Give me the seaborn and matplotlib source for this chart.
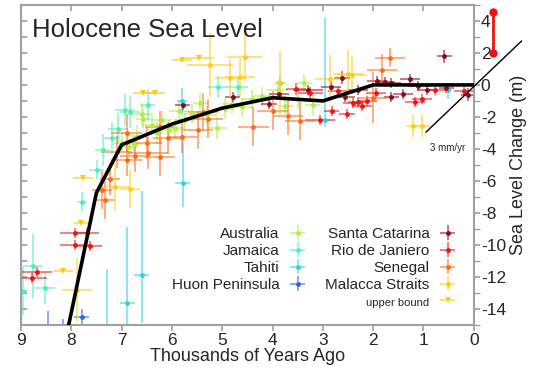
import pandas as pd
import matplotlib.pyplot as plt
import matplotlib.colors as mcolors
from matplotlib.lines import Line2D
import seaborn as sns

# ---- data (kyr ago, metres) ----
aus_x = [7.0, 6.85, 6.7, 6.57, 6.4, 6.3, 6.2, 6.05, 5.94, 5.74, 5.6, 5.44, 5.3, 5.1, 4.95, 4.8, 4.6, 4.4, 4.2, 3.9, 3.75, 3.5, 3.37, 3.2, 6.75, 6.6, 5.85]
aus_y = [-3.6, -3.9, -3.2, -2.1, -2.5, -3.0, -2.2, -2.8, -2.7, -2.2, -1.8, -1.1, -1.9, -2.7, -1.5, -1.2, -1.4, -0.9, -0.7, -0.3, -1.3, -0.9, 0.1, -1.25, -3.7, -1.8, -1.6]
aus_xe = [0.15, 0.15, 0.2, 0.15, 0.2, 0.15, 0.2, 0.2, 0.2, 0.2, 0.2, 0.15, 0.2, 0.2, 0.2, 0.2, 0.2, 0.2, 0.2, 0.2, 0.15, 0.2, 0.15, 0.15, 0.15, 0.2, 0.2]
aus_ye = [0.6, 0.6, 0.7, 0.6, 0.6, 0.7, 0.6, 0.6, 0.6, 0.6, 0.6, 0.6, 0.6, 0.7, 0.6, 0.6, 0.6, 0.6, 0.6, 0.6, 0.6, 0.6, 0.6, 0.6, 0.5, 0.7, 0.6]

jam_x = [8.96, 8.76, 8.52, 7.79, 7.49, 7.37, 7.19, 7.07, 6.93, 6.83, 6.48, 5.08, 4.69, 3.85]
jam_y = [-12.9, -11.3, -12.7, -7.3, -5.3, -4.06, -3.3, -2.75, -1.56, -1.69, -1.25, -0.12, -0.12, 0.12]
jam_xe = [0.1, 0.2, 0.2, 0.1, 0.15, 0.15, 0.15, 0.2, 0.2, 0.2, 0.15, 0.2, 0.2, 0.1]
jam_ye = [1.5, 2.0, 1.0, 0.6, 0.6, 1.0, 1.0, 1.0, 1.0, 1.0, 1.0, 0.7, 0.7, 0.5]

tah_x = [5.78, 5.8, 6.6, 6.89, 7.29, 2.96, 0.51]
tah_y = [-6.1, -1.0, -11.9, -13.6, -17.5, -2.2, -0.31]
tah_xe = [0.15, 0.1, 0.15, 0.15, 0.05, 0.1, 0.05]
tah_ylo = [1.5, 0.8, 3.0, 2.0, 6.0, 0.4, 0.6]
tah_yhi = [2.7, 0.8, 5.3, 4.7, 6.0, 6.4, 0.3]

huon_x = [7.79, 8.46, 8.17]
huon_y = [-14.5, -16.5, -16.5]
huon_xe = [0.15, 0.03, 0.03]
huon_ye = [0.5, 2.4, 1.9]

sc_x = [5.78, 4.79, 4.07, 3.87, 3.3, 2.83, 2.62, 2.56, 2.3, 1.92, 1.76, 1.64, 1.64, 1.4, 1.27, 1.1, 0.93, 0.59, 0.55, 0.11]
sc_y = [-1.25, -0.75, -1.2, -0.56, -0.3, -0.1, 0.44, -0.75, -0.3, 0.25, 0.19, 0.12, -0.75, -0.56, 0.37, -0.05, -0.3, 1.8, -0.2, -0.62]
sc_xe = [0.15, 0.15, 0.15, 0.2, 0.3, 0.2, 0.15, 0.2, 0.2, 0.2, 0.2, 0.2, 0.15, 0.2, 0.2, 0.2, 0.2, 0.15, 0.15, 0.15]
sc_ye = [0.3, 0.3, 0.3, 0.3, 0.3, 0.3, 0.4, 0.3, 0.3, 0.3, 0.3, 0.3, 0.3, 0.3, 0.3, 0.3, 0.3, 0.4, 0.3, 0.4]

rio_x = [7.93, 7.69, 7.93, 7.63, 8.68, 8.78, 3.53, 3.25, 3.06, 2.82, 2.7, 2.52, 2.4, 2.3, 2.22, 2.12, 1.95, 1.17, 1.03, 0.77, 0.2]
rio_y = [-9.25, -9.25, -10.0, -10.06, -11.7, -12.06, -0.25, -0.5, -2.19, -1.62, -0.4, -1.8, -1.12, -1.06, -1.3, -1.0, -0.5, -1.06, -0.88, -0.31, -0.4]
rio_xe = [0.3, 0.25, 0.3, 0.25, 0.3, 0.3, 0.2, 0.25, 0.3, 0.15, 0.2, 0.15, 0.2, 0.2, 0.2, 0.2, 0.2, 0.2, 0.2, 0.2, 0.2]
rio_ye = [0.3, 0.3, 0.3, 0.3, 0.3, 0.3, 0.4, 0.4, 0.3, 0.3, 0.3, 0.3, 0.3, 0.3, 0.3, 0.3, 0.3, 0.3, 0.3, 0.3, 0.3]

sen_x = [7.39, 7.33, 7.23, 7.1, 6.9, 6.9, 6.73, 6.5, 6.48, 6.24, 6.24, 6.08, 5.8, 5.48, 5.38, 5.28, 4.38, 4.0, 3.69, 3.45, 2.0, 1.82, 1.66]
sen_y = [-6.56, -7.2, -5.9, -4.2, -4.7, -3.0, -4.44, -3.62, -4.25, -4.5, -2.6, -3.3, -3.25, -2.8, -1.69, -2.1, -2.6, -1.6, -1.94, -2.25, -0.8, 0.94, 1.7]
sen_xe = [0.2, 0.2, 0.2, 0.3, 0.3, 0.3, 0.3, 0.3, 0.4, 0.3, 0.3, 0.3, 0.3, 0.3, 0.3, 0.3, 0.3, 0.3, 0.3, 0.3, 0.3, 0.3, 0.3]
sen_ye = [1.2, 1.2, 1.0, 1.0, 1.0, 1.2, 1.0, 1.0, 1.0, 1.2, 1.0, 1.0, 1.0, 1.2, 1.2, 1.2, 1.2, 1.2, 1.2, 1.2, 1.6, 1.0, 0.6]

mal_x = [7.88, 7.13, 6.83, 5.24, 4.84, 4.65, 4.55, 3.85, 2.86, 2.5, 2.42, 1.2, 1.03]
mal_y = [-12.8, -6.4, -6.5, 1.25, 0.44, 0.5, 1.75, 0.1, 0.37, 0.69, 0.62, -2.56, -2.56]
mal_xe = [0.3, 0.3, 0.2, 0.45, 0.3, 0.3, 0.35, 0.1, 0.3, 0.3, 0.3, 0.15, 0.15]
mal_ye = [2.0, 1.5, 1.2, 2.0, 1.2, 1.2, 1.5, 2.0, 1.5, 1.5, 1.2, 0.7, 0.7]

ub_x = [8.17, 7.8, 7.77, 6.57, 6.34, 5.8, 5.46]
ub_y = [-11.6, -8.6, -5.8, -0.5, -0.5, 1.56, 1.7]
ub_xe = [0.2, 0.15, 0.2, 0.2, 0.2, 0.2, 0.3]

curve_x = [8.1, 7.5, 7.0, 6.0, 5.0, 4.0, 3.0, 2.0, 0.0]
curve_y = [-15.75, -6.75, -3.75, -2.45, -1.45, -0.8, -1.0, 0.0, 0.0]

rate_x = [0.95, -0.95]
rate_y = [-2.95, 2.75]

series = [
    ("Australia", "#aef046", aus_x, aus_y, aus_xe, aus_ye),
    ("Jamaica", "#4ff0b2", jam_x, jam_y, jam_xe, jam_ye),
    ("Tahiti", "#2fcff0", tah_x, tah_y, tah_xe, [tah_ylo, tah_yhi]),
    ("Huon Peninsula", "#2a66ee", huon_x, huon_y, huon_xe, huon_ye),
    ("Santa Catarina", "#8e0b1e", sc_x, sc_y, sc_xe, sc_ye),
    ("Rio de Janiero", "#ee1414", rio_x, rio_y, rio_xe, rio_ye),
    ("Senegal", "#ff6a1a", sen_x, sen_y, sen_xe, sen_ye),
    ("Malacca Straits", "#ffcc16", mal_x, mal_y, mal_xe, mal_ye),
]

sns.set_theme(style="white")
plt.rcParams['font.family'] = ['Liberation Sans', 'DejaVu Sans']
plt.rcParams['axes.unicode_minus'] = False

fig = plt.figure(figsize=(5.36, 3.8), dpi=100)
ax = fig.add_axes([0.039, 0.145, 0.845, 0.842])

handles = {}
for name, col, x, y, xe, ye in series:
    h = ax.errorbar(x, y, xerr=xe, yerr=ye, fmt='o', ms=3.5, color=col,
                    ecolor=mcolors.to_rgba(col, 0.55), elinewidth=1.4,
                    capsize=0, mew=0, label=name)
    handles[name] = h

h_ub = ax.errorbar(ub_x, ub_y, xerr=ub_xe, fmt='v', ms=5, color="#ffc814",
                   ecolor=mcolors.to_rgba("#ffc814", 0.6), elinewidth=1.4,
                   capsize=0, mew=0, label="upper bound")

df_curve = pd.DataFrame({"kyr": curve_x, "level": curve_y})
sns.lineplot(data=df_curve, x="kyr", y="level", sort=False, estimator=None,
             color="black", lw=2.6, ax=ax, zorder=5)

# 3 mm/yr reference line and red range bar outside the axes
ax.plot(rate_x, rate_y, color="black", lw=1, clip_on=False, zorder=6)
ax.text(0.53, -3.95, "3 mm/yr", fontsize=7, ha="center", va="center")
ax.plot([-0.38, -0.38], [2.0, 4.55], color="#ee1111", lw=2, marker='o', ms=5,
        clip_on=False, zorder=6)

ax.set_xlim(9, 0)
ax.set_ylim(-15, 5)
ax.set_xticks(range(0, 10))
ax.set_yticks(range(-14, 5, 2))
ax.set_yticks(range(-15, 6, 2), minor=True)
ax.yaxis.tick_right()
ax.yaxis.set_label_position("right")
gray = "#a0a0a0"
for s in ax.spines.values():
    s.set_color(gray)
    s.set_linewidth(1.5)
ax.tick_params(axis="x", bottom=True, direction="out", length=4, color=gray,
               labelsize=12.5, pad=2)
ax.tick_params(axis="y", which="both", right=True, left=False, direction="out",
               length=4, color=gray, labelsize=12.5, pad=1)

secx = ax.secondary_xaxis("top")
secx.set_xticks(range(0, 10))
secx.tick_params(direction="in", length=4, color=gray, labeltop=False)
secx.spines["top"].set_color(gray)
secy = ax.secondary_yaxis("left")
secy.set_yticks(range(-15, 6))
secy.tick_params(direction="in", length=4, color=gray, labelleft=False)
secy.spines["left"].set_color(gray)

ax.set_xlabel("Thousands of Years Ago", fontsize=13, labelpad=0)
ax.set_ylabel("Sea Level Change (m)", fontsize=13, rotation=90, labelpad=3)

ax.text(0.025, 0.96, "Holocene Sea Level", transform=ax.transAxes,
        fontsize=18.5, ha="left", va="top")

blank = Line2D([], [], linestyle="none")
order = ["Australia", "Jamaica", "Tahiti", "Huon Peninsula"]
order2 = ["Santa Catarina", "Rio de Janiero", "Senegal", "Malacca Straits"]
leg_h = [handles[n] for n in order] + [blank] + [handles[n] for n in order2] + [h_ub]
leg_l = order + [""] + order2 + ["upper bound"]
leg = ax.legend(leg_h, leg_l, ncol=2, loc="lower right",
                bbox_to_anchor=(0.993, 0.016), frameon=False, markerfirst=False,
                fontsize=11, labelspacing=0.2, handlelength=1.6,
                handletextpad=0.4, columnspacing=1.0, borderpad=0.2)
for t in leg.get_texts():
    t.set_ha("right")
leg.get_texts()[-1].set_fontsize(8)

plt.savefig("out.png", dpi=100)
